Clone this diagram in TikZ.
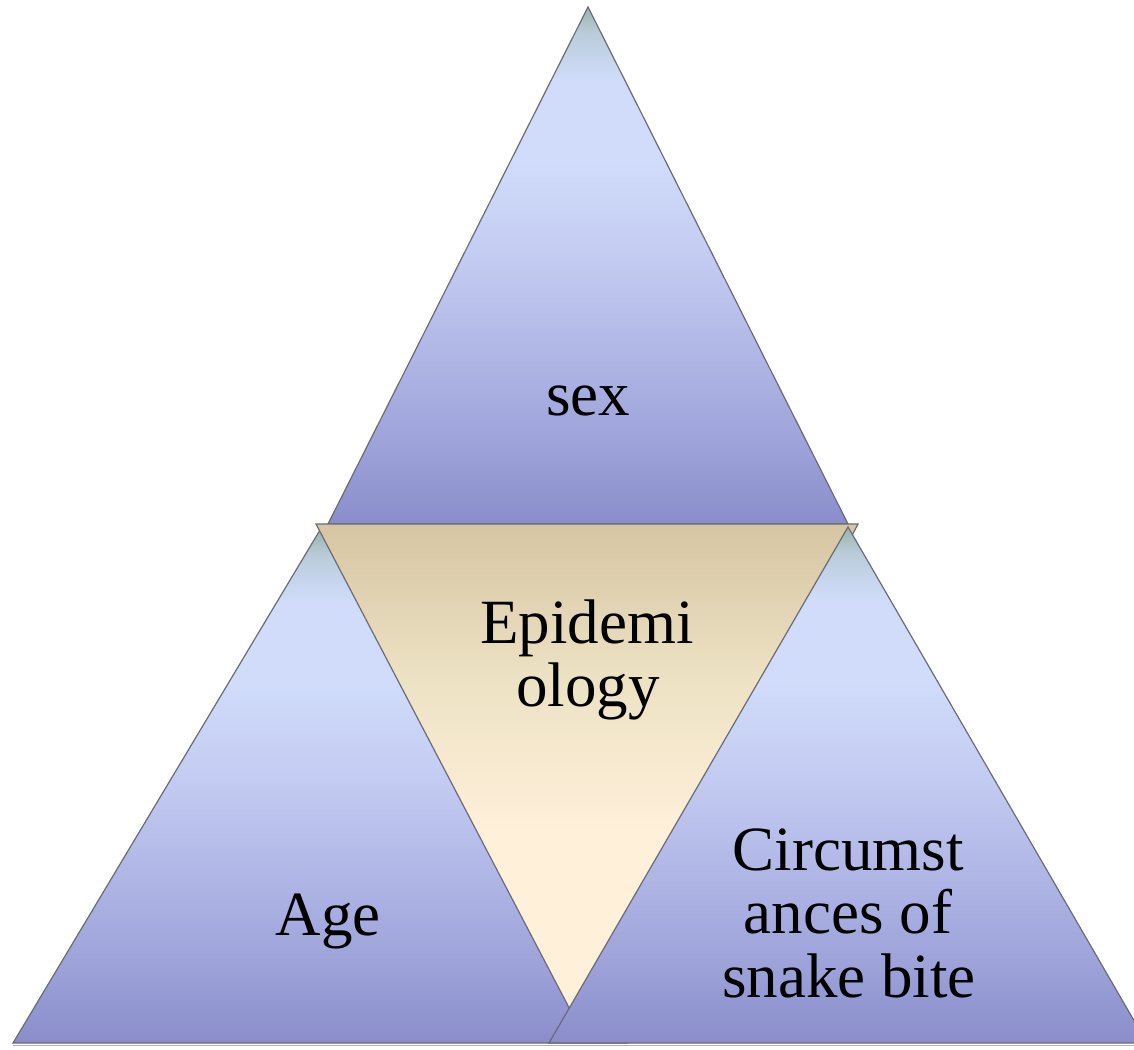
\documentclass[tikz,border=0pt]{standalone}
\usepackage{fontspec}
\setmainfont{Liberation Serif}
\definecolor{bB}{HTML}{8A8DCA}
\definecolor{bA}{HTML}{9DA2D9}
\definecolor{bM}{HTML}{C2CAF1}
\definecolor{bL}{HTML}{D0DCFA}
\definecolor{bG}{HTML}{BACCDA}
\definecolor{bT}{HTML}{9CB4AC}
\definecolor{tT}{HTML}{D6C5A2}
\definecolor{tM}{HTML}{EDE2C4}
\definecolor{tB}{HTML}{FFF0DA}
\definecolor{edge}{HTML}{6A6A78}
\pgfdeclareverticalshading{blueTri}{100bp}{color(0bp)=(bB); color(25bp)=(bB); color(32.5bp)=(bA); color(50bp)=(bM); color(60bp)=(bL); color(68bp)=(bL); color(72.5bp)=(bG); color(75bp)=(bT); color(100bp)=(bT)}
\pgfdeclareverticalshading{tanTri}{100bp}{color(0bp)=(tB); color(25bp)=(tB); color(45bp)=(tB); color(60bp)=(tM); color(75bp)=(tT); color(100bp)=(tT)}
\tikzset{
  bluetri/.style={shading=blueTri, draw=edge, line width=1.2pt, line join=miter},
  tantri/.style={shading=tanTri, draw=edge, line width=1.2pt, line join=miter},
  lbl/.style={anchor=base, inner sep=0pt, font=\fontsize{63}{63}\selectfont, text=black}
}
\begin{document}
\begin{tikzpicture}[x=1pt,y=-1pt]
\useasboundingbox (0,0) rectangle (1134,1049);
\clip (0,0) rectangle (1134,1049);
% vertices
\coordinate (tA) at (588,7);
\coordinate (tL) at (328,524);
\coordinate (tR) at (848,524);
\coordinate (lA) at (320,530);
\coordinate (lL) at (13,1043);
\coordinate (lR) at (627,1043);
\coordinate (mL) at (316,524);
\coordinate (mR) at (858,524);
\coordinate (mB) at (587,1042);
\coordinate (rA) at (848,527);
\coordinate (rL) at (549,1043);
\coordinate (rR) at (1147,1043);
% shadow line under bases
\draw[gray!60, line width=1pt] (lL) ++(0,2) -- (1134,1045);
% triangles
\path[bluetri] (tA) -- (tR) -- (tL) -- cycle;
\path[bluetri] (lA) -- (lR) -- (lL) -- cycle;
\path[tantri] (mL) -- (mR) -- (mB) -- cycle;
\path[bluetri] (rA) -- (rR) -- (rL) -- cycle;
% labels
\node[lbl] (sex) at (588,415) {sex};
\node[lbl] (epi1) at (587,643) {Epidemi};
\node[lbl] (epi2) at (588,706) {ology};
\node[lbl] (age) at (328,935) {Age};
\node[lbl] (cir1) at (848,870) {Circumst};
\node[lbl] (cir2) at (848,933) {ances of};
\node[lbl] (cir3) at (849,997) {snake bite};
\end{tikzpicture}
\end{document}
